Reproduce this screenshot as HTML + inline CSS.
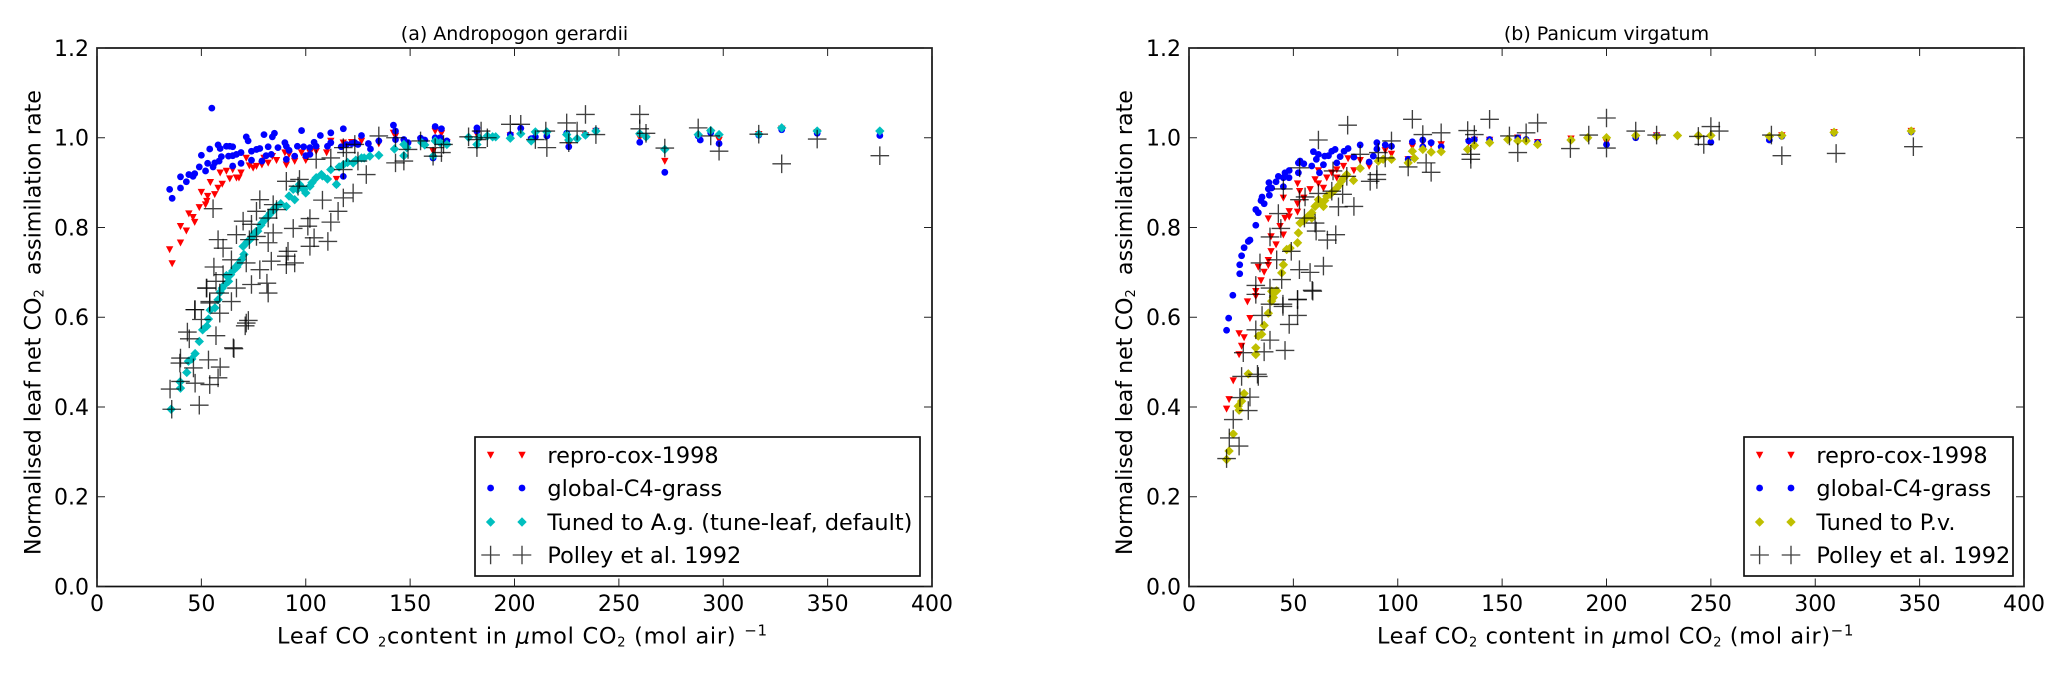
<!DOCTYPE html>
<html>
<head>
<meta charset="utf-8">
<title>Normalised leaf net CO2 assimilation</title>
<style>
html,body{margin:0;padding:0;background:#fff;}
svg{display:block;font-family:"DejaVu Sans","Liberation Sans",sans-serif;}
text{fill:#000;}
</style>
</head>
<body>
<svg id="figure" xmlns="http://www.w3.org/2000/svg" width="2067" height="674" viewBox="0 0 2067 674"></svg>
<script>
const xTickValues = [0, 50, 100, 150, 200, 250, 300, 350, 400];
const yTickValues = [0.0, 0.2, 0.4, 0.6, 0.8, 1.0, 1.2];
const xRange = [0, 400];
const yRange = [0, 1.2];

const aRepro = [[34.8,.751],[36,.72],[40,.766],[40,.803],[42.8,.793],[44,.831],[46,.823],[46.8,.812],[49,.845],[50,.879],[52,.851],[52.6,.859],[53,.87],[54.3,.901],[56.4,.874],[58,.888],[59,.922],[60,.897],[62,.926],[63.6,.909],[65,.929],[66.8,.911],[69,.922],[68,.911],[71.5,.955],[73,.938],[74.8,.933],[76.4,.937],[79,.94],[80,.955],[82,.944],[84,.959],[86,.95],[90,.967],[90.7,.94],[92,.963],[94.7,.948],[98,.967],[100,.95],[102,.967],[105,.97],[110,.967],[112,.993],[114.7,.908],[118,.989],[122,.99],[126.7,.993],[135,.987],[142,1.011],[143,1.004],[147,.99],[149,.985],[155,.995],[157,.99],[161,.97],[162,1.015],[165,1.01],[167.6,.99],[182,1.007],[198,1.005],[203,1.015],[208,.995],[215.5,1.005],[226,.985],[234,1.005],[239,1.015],[260,1],[263,1],[272,.948],[288,1],[294,1.012],[298,.995],[317,1.008],[328,1.02],[345,1.012],[375,1.01]];
const aGlobal = [[34.8,.885],[36,.865],[40,.888],[40,.913],[42.8,.902],[44,.918],[46,.914],[46.8,.92],[49,.935],[50,.961],[52,.926],[53,.943],[54,.975],[55,1.066],[55.6,.935],[56.4,.944],[58,.984],[59,.976],[58.5,.948],[59.6,.958],[62,.981],[63,.959],[63.6,.981],[65,.98],[65,.96],[65,.937],[66.8,.963],[69,.967],[69,.943],[71.5,1.002],[72.4,.993],[74,.97],[74,.95],[76.4,.974],[78,.976],[79,.948],[80,1.007],[81,.96],[82,.98],[83.5,.963],[84,1.002],[85,1.01],[86.7,.978],[90,.989],[90.7,.981],[90.7,.952],[92,.972],[94.7,.959],[96,.981],[98,1.016],[99,.98],[100,.96],[102,.963],[102,.978],[104,.99],[105,.981],[107,1.005],[110.4,.981],[112,1.011],[112,.989],[114.7,.896],[117,.98],[118,1.02],[118,.914],[119.5,.985],[122,.987],[123.5,.989],[125,.985],[126.7,1.005],[130,.987],[131,.975],[135,.993],[142,1.028],[143,1.015],[143,.996],[147,.996],[149,.989],[155,.999],[157,.995],[162,1.025],[165,1.02],[162,1],[164.4,1],[161,.955],[167.6,.993],[182,1.022],[182,1.015],[198,1.007],[203,1.021],[210,1.002],[208,.998],[215.5,1.004],[225,1.01],[226,.98],[234,1.006],[239,1.016],[260,.99],[263,1.002],[272,.923],[288,1.004],[289,.995],[294,1.011],[298,.987],[317,1.006],[328,1.018],[345,1.01],[375,1.005]];
const aTuned = [[35.5,.395],[40,.442],[39.8,.456],[43,.477],[43.8,.502],[45.4,.507],[47,.519],[49,.546],[50.6,.572],[52.6,.58],[53.4,.596],[54.2,.616],[56.5,.621],[58,.639],[59,.656],[60,.665],[61,.672],[63,.68],[62,.693],[64,.695],[65,.703],[66,.71],[67,.712],[68,.72],[69.3,.729],[70.4,.74],[70,.758],[72,.768],[73,.772],[74,.777],[75,.785],[76,.79],[77,.792],[78.5,.805],[79,.81],[80.3,.818],[81,.82],[82.7,.829],[83,.832],[84,.838],[85,.84],[86,.847],[88,.853],[90.7,.847],[92,.87],[94.7,.862],[94,.885],[96,.885],[97,.896],[99,.885],[100,.877],[102,.892],[103,.9],[105,.911],[107.5,.918],[108,.915],[110.4,.908],[112,.929],[114.7,.896],[116,.935],[118,.94],[120,.945],[122.7,.944],[124,.95],[126.7,.955],[128,.955],[130.7,.959],[135,.961],[142.5,.975],[147,.985],[147,.96],[148.4,.978],[155.6,.989],[157,.984],[162,.993],[164.4,.989],[161,.959],[167.6,.985],[178,1.001],[182,.985],[183,1],[187,1.004],[189.5,1.002],[191,1.002],[198,.999],[203,1.009],[208,.993],[210,1.013],[215.5,1.013],[225,1.007],[226,.995],[230,.998],[234,1.006],[239,1.015],[260,1.009],[263,1.002],[272,.974],[288,1.007],[294,1.016],[298,1.007],[317,1.008],[328,1.022],[345,1.015],[375,1.015]];
const aPolley = [[55.6,.842],[78,.862],[90.7,.903],[97,.907],[96.3,.892],[76.4,.836],[84.4,.851],[86,.84],[82,.821],[70,.814],[74,.807],[66.8,.784],[58,.773],[60.4,.754],[73,.773],[76.4,.78],[84.4,.788],[82,.766],[94,.798],[102,.82],[101,.803],[108,.861],[118,.866],[115.5,.836],[112,.812],[110.6,.769],[104,.777],[102,.758],[91.5,.747],[90.7,.736],[94.7,.721],[90.7,.717],[83.5,.725],[71.5,.721],[56,.712],[64.4,.728],[60.4,.695],[78,.706],[66.8,.665],[74,.673],[81.4,.676],[52.4,.665],[57,.68],[58.8,.654],[82,.654],[64.4,.635],[54,.635],[58.8,.609],[46.8,.617],[71.5,.587],[105,.952],[112,.955],[119.5,.967],[125,.948],[129,.918],[122.7,.877],[135,1.004],[143,1],[143,.944],[118,.929],[118,.978],[123.5,.985],[52.6,.665],[54,.632],[47,.617],[50,.595],[43.3,.567],[44.2,.552],[57,.559],[40,.509],[39.7,.498],[53.4,.505],[59,.489],[46.2,.487],[58,.465],[65.3,.532],[65.6,.53],[71,.581],[72.5,.593],[47,.453],[35,.44],[54,.45],[40,.457],[35.8,.395],[49,.404],[147,.948],[149,.974],[155,.993],[161,.959],[162,.978],[166,.985],[165,.967],[178,1.002],[182,.978],[184,1.015],[182,.996],[187,1],[198,1.03],[203,1.03],[210,.996],[215,1.015],[215.5,.978],[225,1.033],[230,1.015],[226,.989],[234,1.052],[239,1.007],[260,1.052],[260,1.02],[263,1.01],[272,.977],[288,1.022],[294,1.004],[298,.97],[317,1.008],[328,.942],[345,.997],[375,.96]];

const bRepro = [[18,.396],[19.2,.417],[21.2,.459],[24,.517],[25.2,.536],[24,.564],[26.4,.555],[29.2,.598],[28,.635],[32,.647],[32,.658],[34.5,.682],[36,.701],[33.2,.712],[38,.716],[38,.727],[39.3,.747],[41.7,.762],[39.3,.78],[45.2,.784],[43.6,.803],[38,.82],[46,.821],[48,.836],[48,.824],[52,.835],[45.2,.866],[52,.853],[53,.881],[55,.866],[58,.885],[60.4,.907],[62,.898],[64.4,.888],[52,.898],[62,.927],[66,.911],[68.4,.922],[70.8,.911],[70.8,.929],[74,.937],[76.2,.954],[79,.927],[82,.95],[86.3,.937],[94,.972],[97,.964],[105,.952],[107,.981],[112,.989],[116,.985],[120.8,.985],[134,.99],[136.7,.995],[144,.995],[157.5,1],[167,.99],[183,.998],[200,.99],[224,1.005],[250,1],[278,.998],[284,1.005],[309,1.012],[346,1.015]];
const bGlobal = [[18,.571],[19,.598],[21,.649],[24.3,.697],[24.3,.717],[25.2,.737],[26.4,.755],[28.4,.769],[29.2,.772],[32,.805],[33.2,.833],[32,.84],[36,.853],[34.5,.86],[35,.868],[38.5,.872],[38,.886],[39.6,.888],[38.3,.9],[41.7,.902],[42.8,.914],[45.2,.891],[45.2,.911],[46,.922],[47.9,.911],[48,.927],[52.4,.922],[52.4,.944],[53.2,.948],[55,.942],[58.8,.937],[59.6,.969],[61,.952],[62,.963],[64.4,.94],[65,.959],[66.8,.96],[68.4,.97],[70,.974],[70.8,.944],[72.4,.958],[74.3,.97],[76.2,.976],[79,.957],[82,.984],[86.3,.946],[88.3,.959],[90,.989],[90,.975],[94,.984],[97,.981],[105,.952],[107,.991],[112,.995],[116,.989],[112,.98],[62.5,.922],[120.8,.98],[134,.993],[136.7,.996],[144,.996],[157.5,1],[161.5,.996],[167,.989],[183,.995],[191,1],[200,.985],[214,1],[224,1.005],[244,1.005],[250,.99],[278,.995],[284,1.003],[309,1.01],[346,1.013]];
const bTuned = [[18,.283],[19.2,.302],[21.2,.34],[24,.393],[23.6,.402],[25.2,.413],[26.4,.43],[28.4,.474],[32,.517],[32,.532],[33.2,.558],[34.8,.562],[36,.582],[38,.609],[39.6,.636],[40.4,.644],[39.6,.658],[41.7,.658],[42,.659],[44.4,.699],[45.2,.717],[46.8,.751],[48.4,.754],[52,.766],[52.4,.788],[53.2,.81],[55,.815],[56,.82],[57,.825],[58.8,.821],[58.8,.833],[60.4,.847],[61,.85],[63,.855],[64.4,.847],[62,.862],[65,.86],[66,.87],[67.6,.874],[69,.88],[70.8,.888],[72,.895],[73,.903],[74,.91],[75.5,.918],[78.8,.905],[82,.932],[90.7,.948],[93,.952],[97,.952],[105,.944],[107,.97],[108,.954],[112,.974],[116,.968],[120.8,.969],[133.5,.974],[136.7,.983],[144,.989],[152.7,.996],[157.5,.993],[161.5,.993],[167,.985],[183,.995],[191,1],[200,1],[214,1.005],[224,1.003],[234,1.005],[244,1.005],[250,1.005],[278,1.003],[284,1.005],[309,1.012],[346,1.015]];
const bPolley = [[18,.285],[24,.313],[19.3,.331],[21.2,.372],[28.4,.392],[24.4,.421],[29.2,.422],[25.2,.468],[32.8,.473],[33.2,.468],[26,.521],[36,.523],[46,.526],[32,.572],[38.8,.549],[35,.604],[48,.584],[52,.604],[32,.651],[38.8,.629],[45,.629],[52,.64],[59,.66],[76,1.028],[62,.995],[107,1.041],[112,1.007],[97,.993],[82,.963],[90.7,.967],[94,.955],[53,.933],[69,.926],[75.6,.914],[45.2,.886],[55.6,.868],[52.9,.862],[62,.876],[68.4,.881],[73.6,.874],[71.6,.846],[79,.847],[42.8,.831],[55.3,.821],[60.4,.81],[60.9,.792],[70.3,.784],[66.3,.772],[38.8,.779],[44,.798],[49,.747],[42,.728],[34,.721],[64.4,.714],[58,.7],[52.9,.706],[44.4,.684],[32,.671],[59.3,.658],[52,.639],[38.8,.665],[45,.624],[86.8,.903],[90,.907],[90,.918],[105,.935],[116,.923],[113.6,.944],[120.8,1.011],[133.5,1.016],[135,.963],[135,.952],[136.7,1.007],[144,1.041],[153.5,1.004],[157.5,.967],[161.5,1.011],[167,1.033],[182.7,.976],[191.5,1.006],[200,1.044],[200,.977],[214,1.015],[224,1.006],[244,1.003],[246.6,.985],[250,1.025],[254,1.015],[279,1.006],[284,.96],[310,.965],[347,.98]];

const NS = 'http://www.w3.org/2000/svg';
const svg = document.getElementById('figure');

function make(tag, attrs, parent) {
  const el = document.createElementNS(NS, tag);
  for (const k in attrs) el.setAttribute(k, attrs[k]);
  parent.appendChild(el);
  return el;
}
function xScale(p, v) { return p.left + (v - xRange[0]) / (xRange[1] - xRange[0]) * p.width; }
function yScale(p, v) { return p.bottom - (v - yRange[0]) / (yRange[1] - yRange[0]) * (p.bottom - p.top); }

function drawMarker(kind, g, x, y) {
  let el;
  if (kind === 'circle') {
    el = make('circle', {cx: x, cy: y, r: 3.4, fill: '#0000ff'}, g);
  } else if (kind === 'triangle') {
    el = make('polygon', {points: (x-3.7)+','+(y-3.2)+' '+(x+3.7)+','+(y-3.2)+' '+x+','+(y+3.8), fill: '#ff0000'}, g);
  } else if (kind === 'diamond') {
    el = make('polygon', {points: x+','+(y-4.7)+' '+(x+4.7)+','+y+' '+x+','+(y+4.7)+' '+(x-4.7)+','+y, fill: g.getAttribute('data-color')}, g);
  } else {
    el = make('path', {d: 'M'+(x-9.3)+' '+y+'H'+(x+9.3)+'M'+x+' '+(y-9.3)+'V'+(y+9.3), stroke: '#000', 'stroke-opacity': 0.75, 'stroke-width': 1.35, fill: 'none'}, g);
  }
  return el;
}

function drawSeries(p, name, kind, color, data) {
  const g = make('g', {'data-color': color}, svg);
  
  
  data.forEach(function (d) {
    const m = drawMarker(kind, g, xScale(p, d[0]), yScale(p, d[1]));
    
    
  });
}

function drawPanel(p) {
  drawSeries(p, p.key + '-repro-cox-1998-series', 'triangle', '#ff0000', p.repro);
  drawSeries(p, p.key + '-global-c4-grass-series', 'circle', '#0000ff', p.global);
  drawSeries(p, p.key + '-tuned-series', 'diamond', p.tunedColor, p.tuned);
  drawSeries(p, p.key + '-polley-1992-series', 'cross', '#000', p.polley);

  const frame = make('rect', {x: p.left, y: p.top, width: p.width, height: p.bottom - p.top, fill: 'none', stroke: '#111', 'stroke-width': 1.7}, svg);
  
  

  xTickValues.forEach(function (v) {
    const x = xScale(p, v);
    const tick = make('path', {d: 'M'+x+' '+p.bottom+'v-8M'+x+' '+p.top+'v8', stroke: '#222', 'stroke-width': 1}, svg);
    
    
    const label = make('text', {x: x, y: 611, 'text-anchor': 'middle', 'font-size': p.fs}, svg);
    label.textContent = String(v);
    
    
  });
  yTickValues.forEach(function (v) {
    const y = yScale(p, v);
    const tick = make('path', {d: 'M'+p.left+' '+y+'h8M'+(p.left+p.width)+' '+y+'h-8', stroke: '#222', 'stroke-width': 1}, svg);
    
    
    const label = make('text', {x: p.left - 8, y: y + 7.8, 'text-anchor': 'end', 'font-size': p.fs}, svg);
    label.textContent = v.toFixed(1);
    
    
  });

  const title = make('text', {x: p.left + p.width / 2, y: 40, 'text-anchor': 'middle', 'font-size': 19}, svg);
  title.textContent = p.title;
  
  

  const legend = make('g', {}, svg);
  
  
  const box = make('rect', {x: p.legX, y: 437, width: p.legW, height: 139, fill: '#fff', stroke: '#111', 'stroke-width': 1.7}, legend);
  
  
  const kinds = ['triangle', 'circle', 'diamond', 'cross'];
  const rows = [455, 488, 522, 555];
  p.legendLabels.forEach(function (txt, i) {
    const row = make('g', {'data-color': p.tunedColor}, legend);
    
    
    drawMarker(kinds[i], row, p.legX + 15.6, rows[i]);
    drawMarker(kinds[i], row, p.legX + 47, rows[i]);
    const t = make('text', {x: p.legX + 72.4, y: rows[i] + 8, 'font-size': 22.4}, row);
    t.textContent = txt;
  });
}

const panels = [
  {key:'panel-a', left:97, width:835, top:48, bottom:586.5, fs:22, title:'(a) Andropogon gerardii',
   repro:aRepro, global:aGlobal, tuned:aTuned, polley:aPolley, tunedColor:'#00bfbf', legX:475, legW:445,
   legendLabels:['repro-cox-1998','global-C4-grass','Tuned to A.g. (tune-leaf, default)','Polley et al. 1992']},
  {key:'panel-b', left:1189, width:835, top:48, bottom:586.5, fs:22, title:'(b) Panicum virgatum',
   repro:bRepro, global:bGlobal, tuned:bTuned, polley:bPolley, tunedColor:'#bfbf00', legX:1744, legW:269,
   legendLabels:['repro-cox-1998','global-C4-grass','Tuned to P.v.','Polley et al. 1992']}
];
panels.forEach(drawPanel);
</script>
<script>
(function () {
  const fig = document.getElementById('figure');
  const NSX = 'http://www.w3.org/2000/svg';
  function addLabel(name, attrs, parts) {
    const t = document.createElementNS(NSX, 'text');
    for (const k in attrs) t.setAttribute(k, attrs[k]);
    
    
    parts.forEach(function (part) {
      const s = document.createElementNS(NSX, 'tspan');
      s.textContent = part.t;
      if (part.dy) s.setAttribute('dy', part.dy);
      if (part.size) s.setAttribute('font-size', part.size);
      if (part.italic) s.setAttribute('font-style', 'italic');
      t.appendChild(s);
    });
    fig.appendChild(t);
  }
  const yParts = [{t:'Normalised leaf net CO'},{t:'2',size:13,dy:3},{t:'\u00a0\u00a0assimilation rate',dy:-3}];
  addLabel('y-axis-title', {transform:'translate(40.5,555) rotate(-90)','font-size':22.2}, yParts);
  addLabel('y-axis-title', {transform:'translate(1132,555) rotate(-90)','font-size':22.2}, yParts);
  addLabel('x-axis-title', {x:277,y:643.5,'font-size':22.4,'letter-spacing':0.75}, [
    {t:'Leaf CO '},{t:'2',size:13,dy:3},{t:'content in ',dy:-3},{t:'\u03bc',italic:true},{t:'mol CO'},{t:'2',size:13,dy:3},{t:' (mol air) ',dy:-3},{t:'\u22121',size:15,dy:-8}
  ]);
  addLabel('x-axis-title', {x:1377,y:643.5,'font-size':22.4,'letter-spacing':0.6}, [
    {t:'Leaf CO'},{t:'2',size:13,dy:3},{t:'\u00a0content in ',dy:-3},{t:'\u03bc',italic:true},{t:'mol CO'},{t:'2',size:13,dy:3},{t:' (mol air)',dy:-3},{t:'\u22121',size:15,dy:-8}
  ]);
})();
</script>
</body>
</html>
